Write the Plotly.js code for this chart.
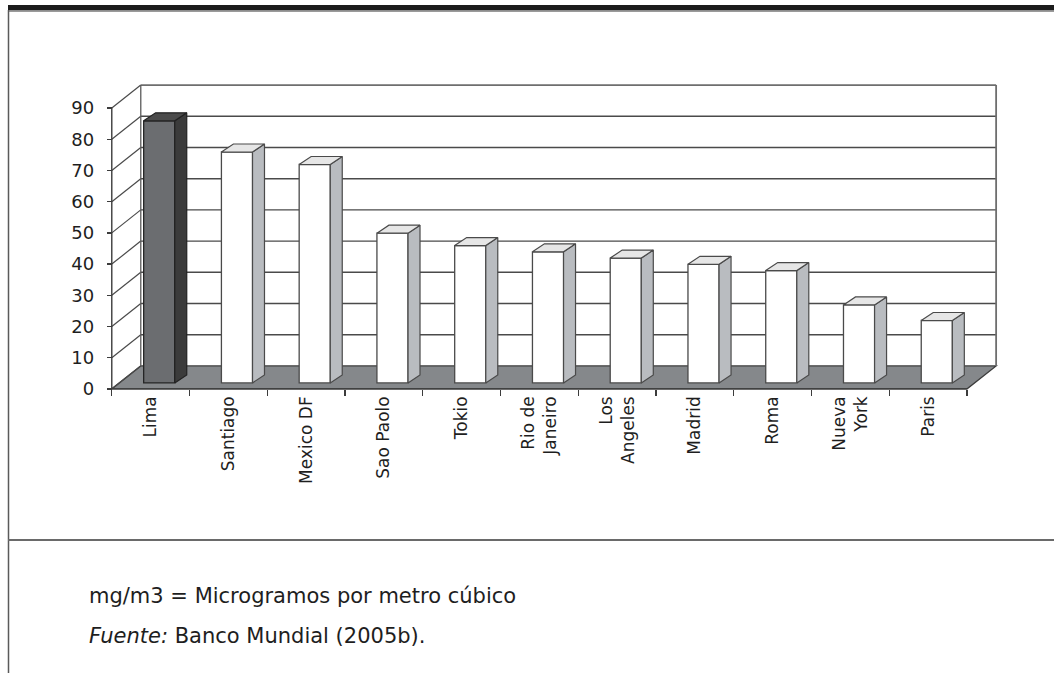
<!DOCTYPE html>
<html>
<head>
<meta charset="utf-8">
<script src="https://cdn.plot.ly/plotly-3.0.1.min.js"></script>
<style>
  html, body { margin: 0; padding: 0; background: #ffffff; }
  #chart { width: 1054px; height: 673px; }
</style>
</head>
<body>
<div id="chart"></div>
<script>
// Concentración de partículas en suspensión por ciudad (mg/m3)
const cities = ['Lima', 'Santiago', 'Mexico DF', 'Sao Paolo', 'Tokio', 'Rio de<br>Janeiro',
                'Los<br>Angeles', 'Madrid', 'Roma', 'Nueva<br>York', 'Paris'];
const values = [84, 74, 70, 48, 44, 42, 40, 38, 36, 25, 20];
const highlighted = 'Lima';
const yTickVals = [0, 10, 20, 30, 40, 50, 60, 70, 80, 90];
const yTickText = ['0', '10', '20', '30', '40', '50', '60', '70', '80', '90'];

// Oblique projection of the walls and floor (in axis units)
const WALL_DX = 0.373, WALL_DY = 7.37;
// Bar placement inside the floor depth and thickness of each bar
const BAR_SHIFT = 0.11, BAR_BASE = 1.92, BAR_W = 0.4;
const BAR_DX = 0.154, BAR_DY = 2.56;

const W = 1054, H = 673;
const M = { l: 104, r: 48, t: 80, b: 281 };
const X_RANGE = [-0.6, 11.0], Y_RANGE = [-1, 99];
const plotW = W - M.l - M.r, plotH = H - M.t - M.b;
const px = v => (v - M.l) / plotW;          // page pixel -> paper x
const py = v => 1 - (v - M.t) / plotH;      // page pixel -> paper y

const n = cities.length;
const idx = cities.map((_, i) => i);
const xL = -0.5, xR = n - 0.5;
const yMax = yTickVals[yTickVals.length - 1];

const shapes = [];
const line = (x0, y0, x1, y1, color, width) => shapes.push({
  type: 'line', xref: 'x', yref: 'y', x0, y0, x1, y1, layer: 'below',
  line: { color, width }
});

// floor
shapes.push({
  type: 'path', xref: 'x', yref: 'y', layer: 'below',
  path: `M ${xL} 0 L ${xL + WALL_DX} ${WALL_DY} L ${xR + WALL_DX} ${WALL_DY} L ${xR} 0 Z`,
  fillcolor: '#85888b', line: { color: '#3c3c3c', width: 1.3 }
});
// back wall gridlines and side wall diagonals
yTickVals.forEach(v => {
  if (v > 0) line(xL + WALL_DX, v + WALL_DY, xR + WALL_DX, v + WALL_DY, v === yMax ? '#6e6e6e' : '#4a4a4a', v === yMax ? 1.8 : 1.4);
  line(xL, v, xL + WALL_DX, v + WALL_DY, '#4a4a4a', 1.2);
});
// back wall edges
line(xL + WALL_DX, WALL_DY, xL + WALL_DX, yMax + WALL_DY, '#5a5a5a', 1.3);
line(xR + WALL_DX, WALL_DY, xR + WALL_DX, yMax + WALL_DY, '#6e6e6e', 1.8);
// front value axis and front floor edge
line(xL, 0, xL, yMax, '#3c3c3c', 1.4);
line(xL, 0, xR, 0, '#3c3c3c', 1.4);

// frame of the figure
shapes.push({ type: 'rect', xref: 'paper', yref: 'paper', x0: px(8), x1: px(W), y0: py(5), y1: py(10.5),
  fillcolor: '#1c1c1c', line: { width: 0 } });
shapes.push({ type: 'line', xref: 'paper', yref: 'paper', x0: px(8), x1: px(W), y0: py(11.5), y1: py(11.5),
  line: { color: '#9a9a9a', width: 1 } });
shapes.push({ type: 'line', xref: 'paper', yref: 'paper', x0: px(8.5), x1: px(8.5), y0: py(10), y1: py(H),
  line: { color: '#5a5a5a', width: 1.5 } });
shapes.push({ type: 'line', xref: 'paper', yref: 'paper', x0: px(8), x1: px(W), y0: py(540), y1: py(540),
  line: { color: '#6a6a6a', width: 2 } });

const traces = [];
const isHi = cities.map(c => c === highlighted);

// front faces of the bars
traces.push({
  type: 'bar', x: idx.map(i => i + BAR_SHIFT), y: values, base: BAR_BASE, width: BAR_W,
  marker: { color: isHi.map(h => h ? '#6b6d70' : '#ffffff'),
            line: { color: isHi.map(h => h ? '#262626' : '#4a4a4a'), width: 1.3 } },
  hoverinfo: 'skip', showlegend: false
});

// top and side faces
idx.forEach(i => {
  const a = i + BAR_SHIFT - BAR_W / 2, b = i + BAR_SHIFT + BAR_W / 2;
  const y0 = BAR_BASE, y1 = BAR_BASE + values[i];
  const edge = isHi[i] ? '#222222' : '#4a4a4a';
  traces.push({
    type: 'scatter', mode: 'lines', fill: 'toself',
    x: [b, b + BAR_DX, b + BAR_DX, b, b],
    y: [y0, y0 + BAR_DY, y1 + BAR_DY, y1, y0],
    fillcolor: isHi[i] ? '#3b3b3b' : '#b9bcc0', line: { color: edge, width: 1.2 },
    hoverinfo: 'skip', showlegend: false
  });
  traces.push({
    type: 'scatter', mode: 'lines', fill: 'toself',
    x: [a, a + BAR_DX, b + BAR_DX, b, a],
    y: [y1, y1 + BAR_DY, y1 + BAR_DY, y1, y1],
    fillcolor: isHi[i] ? '#4b4b4b' : '#e6e6e6', line: { color: edge, width: 1.2 },
    hoverinfo: 'skip', showlegend: false
  });
});

const FONT = 'DejaVu Sans, Verdana, sans-serif';
const noteFont = { family: FONT, size: 21, color: '#1e1e1e' };

const layout = {
  width: W, height: H, margin: M,
  paper_bgcolor: '#ffffff', plot_bgcolor: '#ffffff',
  showlegend: false, bargap: 0,
  xaxis: {
    range: X_RANGE, anchor: 'free', position: (0 - Y_RANGE[0]) / (Y_RANGE[1] - Y_RANGE[0]),
    showgrid: false, zeroline: false, showline: false,
    tickmode: 'array', tickvals: idx, ticktext: cities, tickangle: -90,
    ticks: '', tickfont: { family: FONT, size: 17, color: '#1e1e1e' },
    ticklabelstandoff: 3,
    minor: { tickmode: 'array', tickvals: idx.concat([n]).map(i => i - 0.5),
             ticks: 'outside', ticklen: 6, tickwidth: 1.3, tickcolor: '#3c3c3c', showgrid: false },
    fixedrange: true
  },
  yaxis: {
    range: Y_RANGE, anchor: 'free', position: (xL - X_RANGE[0]) / (X_RANGE[1] - X_RANGE[0]),
    showgrid: false, zeroline: false, showline: false,
    tickmode: 'array', tickvals: yTickVals, ticktext: yTickText,
    ticks: 'outside', ticklen: 5, tickwidth: 1.3, tickcolor: '#3c3c3c',
    tickfont: { family: FONT, size: 18, color: '#1e1e1e' },
    ticklabelstandoff: 9, fixedrange: true
  },
  shapes,
  annotations: [
    { xref: 'paper', yref: 'paper', x: px(87), y: py(596), xanchor: 'left', yanchor: 'middle',
      text: 'mg/m3 = Microgramos por metro cúbico', showarrow: false, font: noteFont },
    { xref: 'paper', yref: 'paper', x: px(87), y: py(636), xanchor: 'left', yanchor: 'middle',
      text: '<i>Fuente:</i> Banco Mundial (2005b).', showarrow: false, font: noteFont }
  ]
};

Plotly.newPlot('chart', traces, layout, { displayModeBar: false, staticPlot: true });
</script>
</body>
</html>
